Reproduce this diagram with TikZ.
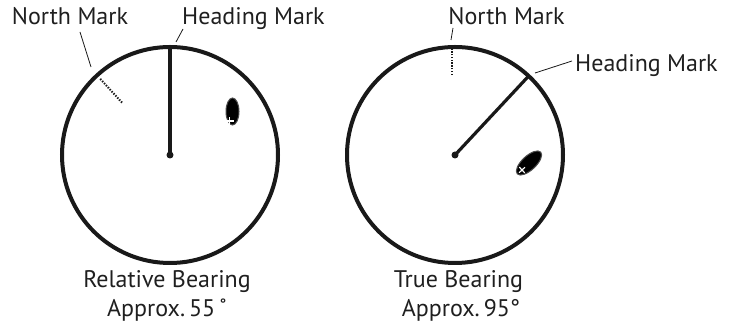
\documentclass[tikz,border=0pt]{standalone}
\usepackage{fontspec}
\setmainfont{PT Sans}
\usetikzlibrary{calc}
\begin{document}
\begin{tikzpicture}[x=1pt,y=1pt,
  scopering/.style={draw=black!90,circle,line width=4pt,minimum size=216pt,inner sep=0pt,outer sep=0pt},
  headline/.style={draw=black!90,line width=3.2pt},
  northdots/.style={draw=black!90,line width=2pt,dash pattern=on 1.4pt off 1.4pt},
  leader/.style={draw=black!90,line width=0.8pt},
  lbl/.style={inner sep=0pt,font=\fontsize{24}{28}\selectfont,text=black!88},
  blip/.style={fill=black,draw=black!70,line width=1pt},
  blipcross/.style={draw=white,line width=1.2pt},
  hub/.style={fill=black!90,circle,inner sep=0pt,minimum size=7pt}]
\useasboundingbox (0,0) rectangle (734,328);
% ---------- left scope ----------
\coordinate (c1) at (170,173);
\node[scopering] (s1) at (c1) {};
\draw[headline] (c1) -- (s1.90);
\node[hub] (h1) at (c1) {};
\draw[northdots] ($(c1)+(132.5:71)$) coordinate (n1a) -- ($(c1)+(132.5:104)$) coordinate (n1b);
\draw[blip] (232.5,216.5) ellipse [x radius=6.5, y radius=13.5];
\coordinate (x1) at (229.5,207);
\draw[blipcross] ($(x1)+(-4,0)$) -- ($(x1)+(4,0)$) ($(x1)+(0,-4)$) -- ($(x1)+(0,4)$);
\node[lbl,anchor=base] (nm1) at (70,303) {North Mark};
\node[lbl,anchor=base west] (hm1) at (182,303) {Heading Mark};
\coordinate (nm1a) at (80,296);
\coordinate (nm1b) at (91,261);
\coordinate (hm1a) at (183,299);
\coordinate (hm1b) at (176,286);
\draw[leader] (nm1a) -- (nm1b);
\draw[leader] (hm1a) -- (hm1b);
\node[lbl,anchor=base] (rb1) at (167,40) {Relative Bearing};
\node[lbl,anchor=base] (rb2) at (167,11) {Approx.\,55\,˚};
% ---------- right scope ----------
\coordinate (c2) at (455,173);
\node[scopering] (s2) at (c2) {};
\draw[headline] (c2) -- (s2.47);
\node[hub] (h2) at (c2) {};
\draw[northdots] (452,253) coordinate (n2a) -- (452,280) coordinate (n2b);
\draw[blip,rotate around={-47:(529,165)}] (529,165) ellipse [x radius=7, y radius=16];
\coordinate (x2) at (522,158);
\draw[blipcross,rotate around={-47:(x2)}] ($(x2)+(-4,0)$) -- ($(x2)+(4,0)$) ($(x2)+(0,-4)$) -- ($(x2)+(0,4)$);
\node[lbl,anchor=base] (nm2) at (506.5,303) {North Mark};
\node[lbl,anchor=base west] (hm2) at (575,256) {Heading Mark};
\coordinate (nm2a) at (453,300);
\coordinate (nm2b) at (451,288);
\coordinate (hm2a) at (572,267);
\coordinate (hm2b) at (535,255);
\draw[leader] (nm2a) -- (nm2b);
\draw[leader] (hm2a) -- (hm2b);
\node[lbl,anchor=base] (tb1) at (458.5,40) {True Bearing};
\node[lbl,anchor=base] (tb2) at (461,11) {Approx.\,95°};
\end{tikzpicture}
\end{document}
